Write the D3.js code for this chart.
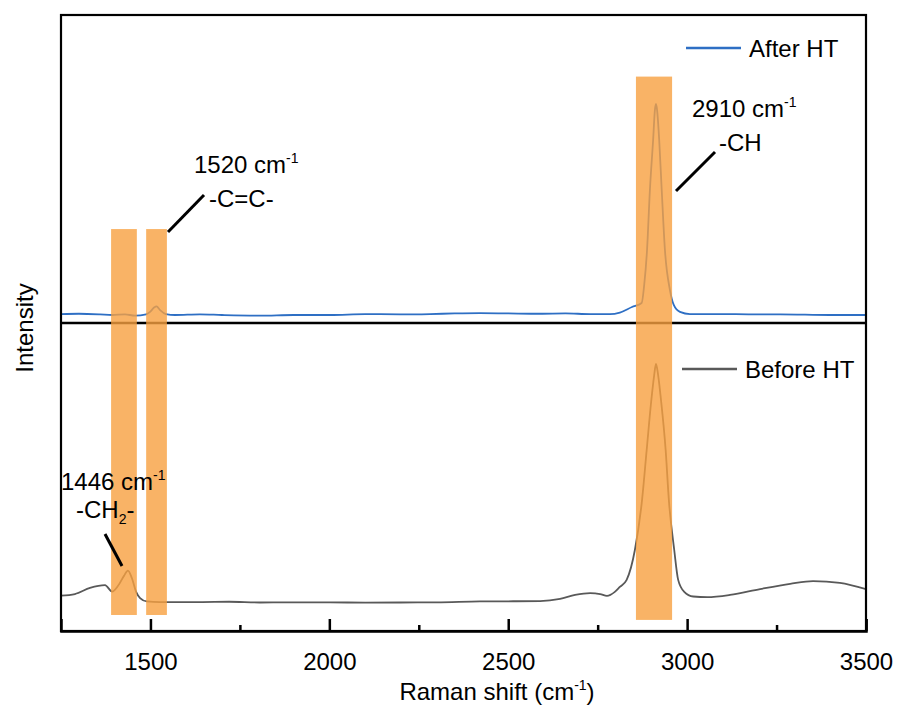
<!DOCTYPE html>
<html>
<head>
<meta charset="utf-8">
<script src="https://cdn.jsdelivr.net/npm/d3@7"></script>
<style>
  body { margin: 0; background: #fff; }
  svg { display: block; font-family: "Liberation Sans", Arial, sans-serif; }
</style>
</head>
<body>
<svg id="chart" width="901" height="716"></svg>
<script>
// ---- data -------------------------------------------------------------
const xDomain = [1250, 3500];
const majorTicks = [1500, 2000, 2500, 3000, 3500];
const minorTicks = [1750, 2250, 2750, 3250];

// After HT spectrum (Raman shift in cm-1, intensity in a.u.)
const afterShift = [1250, 1300, 1359, 1393, 1429, 1457, 1488, 1499, 1510, 1517, 1527, 1543, 1569, 1638, 1700, 1806,
  1900, 2002, 2100, 2198, 2281, 2350, 2421, 2500, 2589, 2660, 2729, 2784, 2812, 2846, 2873, 2880, 2888, 2896,
  2905, 2910, 2913, 2916, 2922, 2929, 2938, 2952, 2963, 2980, 3008, 3092, 3180, 3260, 3399, 3500];
const afterIntensity = [2.9, 3.0, 2.8, 2.6, 2.8, 2.4, 2.8, 3.6, 5.0, 5.4, 4.2, 2.9, 2.6, 2.8, 2.6, 2.4,
  2.6, 2.6, 2.9, 2.8, 2.9, 3.1, 3.2, 3.1, 3.0, 3.1, 2.9, 2.9, 3.4, 5.2, 6.5, 12.3, 23.7, 43.2,
  59.4, 69.2, 71.1, 69.2, 59.4, 43.2, 23.7, 10.7, 5.8, 3.6, 2.9, 2.9, 2.8, 2.8, 2.6, 2.6];

// Before HT spectrum
const beforeShift = [1250, 1289, 1331, 1373, 1393, 1409, 1426, 1437, 1448, 1460, 1471, 1490, 1527, 1638, 1720, 1806,
  1900, 2002, 2100, 2198, 2300, 2421, 2589, 2645, 2687, 2729, 2757, 2776, 2798, 2812, 2831, 2854, 2874, 2887,
  2900, 2908, 2913, 2919, 2927, 2940, 2949, 2964, 2975, 2992, 3017, 3056, 3120, 3204, 3288, 3352, 3427, 3500];
const beforeIntensity = [11.5, 12.0, 14.0, 14.9, 12.8, 14.6, 17.9, 19.6, 17.2, 12.7, 10.7, 9.6, 9.4, 9.4, 9.5, 9.25,
  9.3, 9.3, 9.2, 9.25, 9.3, 9.6, 9.7, 10.4, 11.7, 12.3, 12.0, 11.4, 12.7, 14.3, 16.6, 26.3, 42.5, 58.8,
  75.0, 83.1, 86.7, 83.1, 75.0, 58.8, 42.5, 26.3, 16.6, 12.7, 11.2, 11.0, 11.7, 13.6, 15.3, 16.2, 15.6, 13.6];

// highlighted bands, Raman shift ranges in cm-1
const bandFrom = [1390, 1488, 2857];
const bandTo = [1462, 1546, 2958];
const bandTopUpper = [30.5, 30.5, 80];    // top edge, upper-panel intensity
const bandBottomLower = [5.2, 5.2, 3.6];  // bottom edge, lower-panel intensity

const seriesNames = ["After HT", "Before HT"];

// ---- layout -----------------------------------------------------------
const plotLeft = 61, plotRight = 866, plotTop = 15, plotBottom = 631;
const plotMid = (plotTop + plotBottom) / 2;
const colorAfter = "#2E6FC4";
const colorBefore = "#595959";
const bandColor = "#F8A040";

const svg = d3.select("#chart");

const x = d3.scaleLinear().domain(xDomain).range([plotLeft, plotRight]);
const yUpper = d3.scaleLinear().domain([0, 100]).range([plotMid, plotTop]);
const yLower = d3.scaleLinear().domain([0, 100]).range([plotBottom, plotMid]);

// spectra
const lineUpper = d3.line().x(d => x(d[0])).y(d => yUpper(d[1])).curve(d3.curveMonotoneX);
const lineLower = d3.line().x(d => x(d[0])).y(d => yLower(d[1])).curve(d3.curveMonotoneX);

svg.append("path")
  .attr("d", lineUpper(d3.zip(afterShift, afterIntensity)))
  .attr("fill", "none").attr("stroke", colorAfter).attr("stroke-width", 1.8);
svg.append("path")
  .attr("d", lineLower(d3.zip(beforeShift, beforeIntensity)))
  .attr("fill", "none").attr("stroke", colorBefore).attr("stroke-width", 1.8);

// panel divider and frame
svg.append("line")
  .attr("x1", plotLeft).attr("x2", plotRight).attr("y1", plotMid).attr("y2", plotMid)
  .attr("stroke", "#000").attr("stroke-width", 2.5);
svg.append("rect")
  .attr("x", plotLeft).attr("y", plotTop).attr("width", plotRight - plotLeft).attr("height", plotBottom - plotTop)
  .attr("fill", "none").attr("stroke", "#000").attr("stroke-width", 2.2);

// translucent bands over the spectra
svg.selectAll("rect.band")
  .data(d3.range(bandFrom.length))
  .join("rect")
  .attr("class", "band")
  .attr("x", i => x(bandFrom[i]))
  .attr("width", i => x(bandTo[i]) - x(bandFrom[i]))
  .attr("y", i => yUpper(bandTopUpper[i]))
  .attr("height", i => yLower(bandBottomLower[i]) - yUpper(bandTopUpper[i]))
  .attr("fill", bandColor).attr("fill-opacity", 0.8);

// bottom axis: inward major and minor ticks
const axisMajor = d3.axisBottom(x).tickValues(majorTicks).tickSize(-12).tickPadding(22).tickFormat(d3.format("d"));
const gMajor = svg.append("g").attr("transform", `translate(0,${plotBottom})`).call(axisMajor);
gMajor.select(".domain").attr("stroke-width", 2.5);
gMajor.selectAll(".tick line").attr("stroke-width", 2.5);
gMajor.selectAll(".tick text").attr("font-size", 24).attr("font-family", "Liberation Sans, Arial, sans-serif").attr("fill", "#000");

const axisMinor = d3.axisBottom(x).tickValues(minorTicks).tickSize(-6).tickFormat("");
const gMinor = svg.append("g").attr("transform", `translate(0,${plotBottom})`).call(axisMinor);
gMinor.select(".domain").remove();
gMinor.selectAll(".tick line").attr("stroke-width", 2.5);

// text helper: pieces of [text, size, dy]
function richText(g, px, py, pieces, anchor) {
  const t = g.append("text").attr("x", px).attr("y", py)
    .attr("font-size", 24).attr("fill", "#000").attr("text-anchor", anchor || "start");
  pieces.forEach(p => t.append("tspan").text(p[0]).attr("font-size", p[1]).attr("dy", p[2]));
  return t;
}

// axis titles
richText(svg, 497, 700, [["Raman shift (cm", 24, 0], ["-1", 14, -10], [")", 24, 10]], "middle");
svg.append("text")
  .attr("transform", "translate(33,328) rotate(-90)")
  .attr("text-anchor", "middle").attr("font-size", 24).attr("fill", "#000")
  .text("Intensity");

// legend
const legendRows = [
  { name: seriesNames[0], color: colorAfter, y: 48, x0: 686 },
  { name: seriesNames[1], color: colorBefore, y: 369, x0: 682 }
];
legendRows.forEach(r => {
  svg.append("line").attr("x1", r.x0).attr("x2", r.x0 + 55).attr("y1", r.y).attr("y2", r.y)
    .attr("stroke", r.color).attr("stroke-width", 2.5);
  svg.append("text").attr("x", r.x0 + 63).attr("y", r.y + 8.5)
    .attr("font-size", 24).attr("fill", "#000").text(r.name);
});

// peak annotations
const ann = svg.append("g");
richText(ann, 692, 117, [["2910 cm", 24, 0], ["-1", 14, -10]]);
richText(ann, 719, 151, [["-CH", 24, 0]]);
ann.append("line").attr("x1", 676).attr("y1", 191).attr("x2", 715).attr("y2", 152)
  .attr("stroke", "#000").attr("stroke-width", 3);

richText(ann, 194, 173, [["1520 cm", 24, 0], ["-1", 14, -10]]);
richText(ann, 209, 207, [["-C=C-", 24, 0]]);
ann.append("line").attr("x1", 168).attr("y1", 232).attr("x2", 204).attr("y2", 195)
  .attr("stroke", "#000").attr("stroke-width", 3);

richText(ann, 61, 490, [["1446 cm", 24, 0], ["-1", 14, -10]]);
richText(ann, 76, 518, [["-CH", 24, 0], ["2", 14, 6], ["-", 24, -6]]);
ann.append("line").attr("x1", 105).attr("y1", 534).attr("x2", 122).attr("y2", 566)
  .attr("stroke", "#000").attr("stroke-width", 3);
</script>
</body>
</html>
